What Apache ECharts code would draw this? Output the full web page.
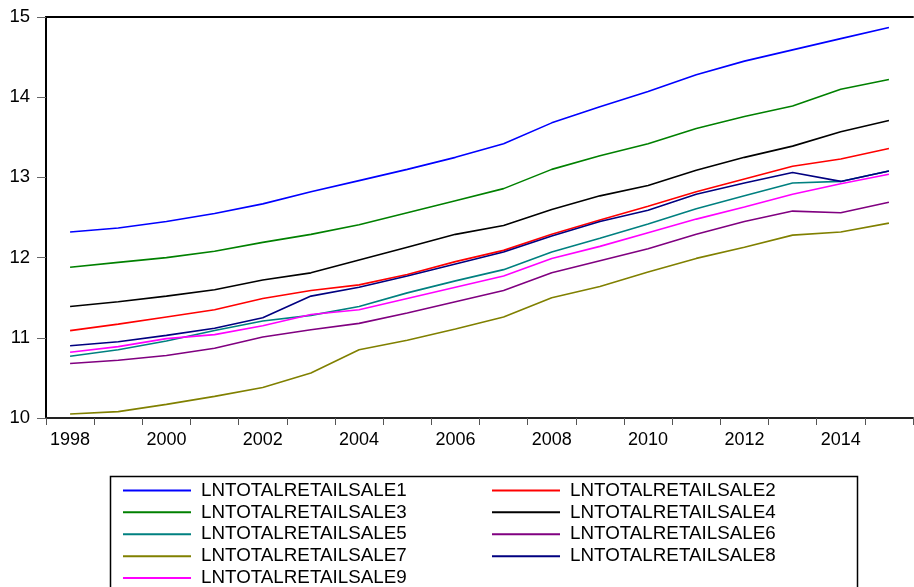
<!DOCTYPE html>
<html>
<head>
<meta charset="utf-8">
<script src="https://cdn.jsdelivr.net/npm/echarts@6/dist/echarts.min.js"></script>
<style>
  html, body { margin: 0; padding: 0; background: #fff; }
  #chart { width: 914px; height: 587px; }
</style>
</head>
<body>
<div id="chart"></div>
<script>
// Annual log retail sales, 1998-2015
const years = ['1998','1999','2000','2001','2002','2003','2004','2005','2006',
               '2007','2008','2009','2010','2011','2012','2013','2014','2015'];

const sale1 = [12.32, 12.37, 12.45, 12.55, 12.67, 12.82, 12.96, 13.10, 13.25, 13.42, 13.68, 13.88, 14.07, 14.28, 14.45, 14.59, 14.73, 14.87];
const sale2 = [11.09, 11.17, 11.26, 11.35, 11.49, 11.59, 11.66, 11.79, 11.95, 12.09, 12.29, 12.47, 12.64, 12.82, 12.98, 13.14, 13.23, 13.36];
const sale3 = [11.88, 11.94, 12.00, 12.08, 12.19, 12.29, 12.41, 12.56, 12.71, 12.86, 13.10, 13.27, 13.42, 13.61, 13.76, 13.89, 14.10, 14.22];
const sale4 = [11.39, 11.45, 11.52, 11.60, 11.72, 11.81, 11.97, 12.13, 12.29, 12.40, 12.60, 12.77, 12.90, 13.09, 13.25, 13.39, 13.57, 13.71];
const sale5 = [10.77, 10.85, 10.96, 11.09, 11.21, 11.28, 11.39, 11.56, 11.71, 11.85, 12.07, 12.24, 12.42, 12.61, 12.77, 12.93, 12.95, 13.08];
const sale6 = [10.68, 10.72, 10.78, 10.87, 11.01, 11.10, 11.18, 11.31, 11.45, 11.59, 11.81, 11.96, 12.11, 12.29, 12.45, 12.58, 12.56, 12.69];
const sale7 = [10.05, 10.08, 10.17, 10.27, 10.38, 10.56, 10.85, 10.97, 11.11, 11.26, 11.50, 11.64, 11.82, 11.99, 12.13, 12.28, 12.32, 12.43];
const sale8 = [10.90, 10.95, 11.03, 11.12, 11.25, 11.52, 11.63, 11.77, 11.92, 12.07, 12.27, 12.45, 12.59, 12.79, 12.93, 13.06, 12.95, 13.08];
const sale9 = [10.82, 10.89, 10.99, 11.04, 11.15, 11.29, 11.35, 11.49, 11.63, 11.77, 11.99, 12.14, 12.31, 12.48, 12.63, 12.79, 12.92, 13.04];

const seriesNames = ['LNTOTALRETAILSALE1','LNTOTALRETAILSALE2','LNTOTALRETAILSALE3',
                     'LNTOTALRETAILSALE4','LNTOTALRETAILSALE5','LNTOTALRETAILSALE6',
                     'LNTOTALRETAILSALE7','LNTOTALRETAILSALE8','LNTOTALRETAILSALE9'];
const seriesData = [sale1, sale2, sale3, sale4, sale5, sale6, sale7, sale8, sale9];
const seriesColors = ['#0000ff','#ff0000','#008000','#000000','#008080',
                      '#800080','#808000','#000080','#ff00ff'];

const FONT = '"Liberation Sans", Arial, sans-serif';

// Two legend columns, laid out top to bottom; height is given explicitly so
// the column does not wrap at the bottom edge of the canvas.
const legendCommon = {
  orient: 'vertical',
  icon: 'rect',
  itemWidth: 68,
  itemHeight: 2,
  itemGap: 0,
  padding: 0,
  height: 140,
  selectedMode: false,
  textStyle: {
    fontFamily: FONT,
    fontSize: 18.8,
    color: '#000',
    lineHeight: 21.9,
    padding: [0, 0, 0, 5]
  }
};

const chart = echarts.init(document.getElementById('chart'), null, { renderer: 'canvas' });

chart.setOption({
  animation: false,
  backgroundColor: '#fff',
  grid: { left: 46, right: 1, top: 17, bottom: 169, containLabel: false },
  xAxis: [{
    type: 'category',
    data: years,
    boundaryGap: true,
    axisLine: { show: true, lineStyle: { color: '#222', width: 2 } },
    axisTick: { show: true, interval: 0, length: 7, lineStyle: { color: '#555', width: 1 } },
    axisLabel: { interval: 1, margin: 13, fontFamily: FONT, fontSize: 18, color: '#000' },
    splitLine: { show: false }
  }, {
    type: 'category',
    data: years,
    position: 'top',
    boundaryGap: true,
    axisLine: { show: true, lineStyle: { color: '#000', width: 2 } },
    axisTick: { show: false },
    axisLabel: { show: false },
    splitLine: { show: false }
  }],
  yAxis: {
    type: 'value',
    min: 10,
    max: 15,
    interval: 1,
    axisLine: { show: true, lineStyle: { color: '#000', width: 2 } },
    axisTick: { show: true, length: 9, lineStyle: { color: '#666', width: 1 } },
    axisLabel: { margin: 16, fontFamily: FONT, fontSize: 18.5, color: '#000' },
    splitLine: { show: false }
  },
  legend: [
    Object.assign({}, legendCommon, {
      left: 123, top: 479.5,
      data: [seriesNames[0], seriesNames[2], seriesNames[4], seriesNames[6], seriesNames[8]]
    }),
    Object.assign({}, legendCommon, {
      left: 492, top: 479.5,
      data: [seriesNames[1], seriesNames[3], seriesNames[5], seriesNames[7]]
    })
  ],
  graphic: [{
    type: 'rect',
    left: 108, top: 474,
    shape: { width: 747, height: 200 },
    style: { fill: 'none', stroke: '#000', lineWidth: 1.5 },
    silent: true,
    z: 10
  }],
  series: seriesNames.map((name, i) => ({
    name: name,
    type: 'line',
    data: seriesData[i],
    showSymbol: false,
    symbol: 'none',
    smooth: false,
    color: seriesColors[i],
    lineStyle: { color: seriesColors[i], width: 1.6 }
  }))
});
</script>
</body>
</html>
